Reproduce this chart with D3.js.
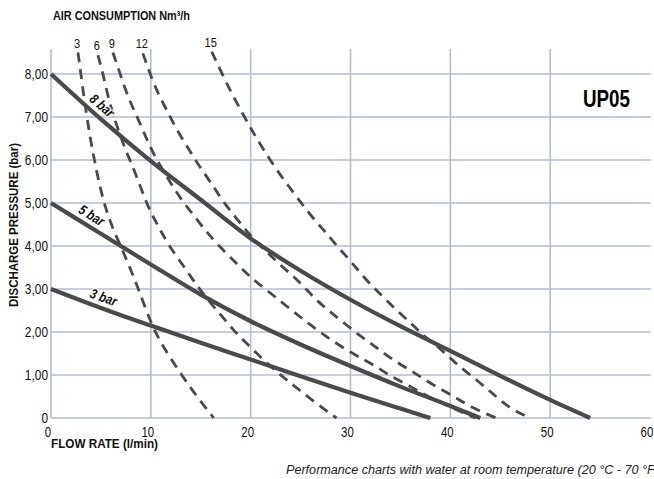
<!DOCTYPE html>
<html><head><meta charset="utf-8">
<script src="https://cdn.jsdelivr.net/npm/d3@7"></script>
<style>
body{margin:0;background:#fff;}
svg{display:block;font-family:"Liberation Sans",Arial,Helvetica,sans-serif;}
</style></head><body>
<svg id="c" width="654" height="479"></svg>
<script>
// ---------- data ----------
const xTicks = [0, 10, 20, 30, 40, 50, 60];
const xTickLabels = ["0", "10", "20", "30", "40", "50", "60"];
const yTicks = [0, 1, 2, 3, 4, 5, 6, 7, 8];
const yTickLabels = ["0", "1,00", "2,00", "3,00", "4,00", "5,00", "6,00", "7,00", "8,00"];

// discharge pressure curves (solid)
const pressureNames = ["8 bar", "5 bar", "3 bar"];
const bar8X = [0, 5, 10, 15, 20, 25, 30, 35, 40, 45, 50, 54];
const bar8Y = [8, 6.95, 5.975, 5.075, 4.175, 3.425, 2.75, 2.135, 1.56, 0.98, 0.42, 0];
const bar5X = [0, 5, 10, 15, 20, 25, 30, 35, 40, 43];
const bar5Y = [5, 4.285, 3.57, 2.87, 2.25, 1.71, 1.21, 0.73, 0.28, 0];
const bar3X = [0, 5, 10, 15, 20, 25, 30, 35, 38];
const bar3Y = [3, 2.56, 2.15, 1.75, 1.36, 0.97, 0.59, 0.22, 0];

// air consumption curves (dashed), Nm3/h
const airNames = ["3", "6", "9", "12", "15"];
const air3X = [2.7, 3.0, 3.3, 3.9, 4.4, 4.9, 5.5, 6.2, 6.9, 7.9, 8.8, 10.0, 11.2, 13.2, 14.6, 16.3];
const air3Y = [8.5, 8.0, 7.45, 6.54, 5.93, 5.38, 4.85, 4.4, 4.04, 3.5, 2.98, 2.2, 1.66, 0.96, 0.5, 0];
const air6X = [4.7, 5.2, 5.7, 6.4, 7.07, 7.9, 8.73, 9.57, 10.3, 11.0, 11.9, 13.07, 14.23, 15.5, 16.9, 18.23, 19.57, 21.5, 23.5, 24.9, 26.57, 28.6];
const air6Y = [8.44, 8.02, 7.47, 6.93, 6.47, 6.0, 5.53, 4.99, 4.65, 4.35, 3.98, 3.6, 3.21, 2.8, 2.43, 2.05, 1.74, 1.3, 0.9, 0.65, 0.34, 0];
const air9X = [6.2, 6.9, 7.7, 8.4, 9.2, 9.9, 10.9, 12.0, 13.07, 14.4, 15.57, 16.9, 18.57, 19.9, 21.57, 23.23, 24.9, 26.4, 28.07, 30.4, 32.4, 34.07, 36.07, 37.73, 40, 42.5];
const air9Y = [8.5, 8.02, 7.47, 7.12, 6.7, 6.31, 5.88, 5.46, 5.07, 4.68, 4.33, 3.98, 3.6, 3.29, 2.98, 2.67, 2.36, 2.09, 1.81, 1.47, 1.23, 0.96, 0.73, 0.5, 0.25, 0];
const air12X = [9.2, 9.9, 10.7, 11.6, 12.6, 13.8, 14.9, 16.07, 17.23, 18.73, 19.9, 21.2, 23.0, 24.9, 26.4, 27.73, 29.4, 31.07, 32.73, 34.23, 36.23, 38.23, 40.4, 42.2, 44.6];
const air12Y = [8.48, 8.02, 7.55, 7.16, 6.7, 6.25, 5.84, 5.46, 5.03, 4.6, 4.26, 3.95, 3.55, 3.17, 2.78, 2.51, 2.2, 1.89, 1.62, 1.35, 1.08, 0.77, 0.5, 0.23, 0];
const air15X = [16.1, 17.1, 18.1, 19.1, 20.1, 21.1, 22.4, 23.7, 25.1, 26.4, 27.6, 28.7, 30.1, 31.4, 32.9, 34.4, 35.9, 37.4, 39.2, 40.7, 42.9, 44.7, 46.2, 48];
const air15Y = [8.52, 8.02, 7.55, 7.12, 6.7, 6.31, 5.84, 5.42, 4.99, 4.6, 4.3, 3.98, 3.63, 3.25, 2.9, 2.55, 2.24, 1.89, 1.58, 1.23, 0.84, 0.47, 0.19, 0];

const chartTitle = "UP05";
const airTitle = "AIR CONSUMPTION Nm\u00B3/h";
const yTitle = "DISCHARGE PRESSURE (bar)";
const xTitle = "FLOW RATE (l/min)";
const caption = "Performance charts with water at room temperature (20 \u00B0C - 70 \u00B0F)";

// ---------- drawing ----------
const svg = d3.select("#c");
const x = d3.scaleLinear().domain([0, 60]).range([51, 650]);
const y = d3.scaleLinear().domain([0, 8]).range([418, 74]);
const gridTop = 8.58;
const gridColor = "#b2bed4";
const ink = "#4a4a4a";
const NARROW = 0.82;

// condensed text helper
function ctext(g, px, py, str, o = {}) {
  const t = g.append("text")
    .attr("transform", `translate(${px},${py})` + (o.rot ? ` rotate(${o.rot})` : "") + ` scale(${o.sx || NARROW},1)`)
    .attr("x", 0).attr("y", o.dy || 0)
    .attr("text-anchor", o.anchor || "start")
    .attr("font-size", o.size || 13)
    .attr("fill", o.fill || "#111")
    .text(str);
  if (o.bold) t.attr("font-weight", "bold");
  if (o.italic) t.attr("font-style", "italic");
  if (o.len) t.attr("textLength", o.len / (o.sx || NARROW)).attr("lengthAdjust", "spacingAndGlyphs");
  if (o.halo) t.attr("stroke", "#fff").attr("stroke-width", 2.5).attr("paint-order", "stroke");
  return t;
}

const zip = (xs, ys) => xs.map((v, i) => [v, ys[i]]);
const pressureSeries = [zip(bar8X, bar8Y), zip(bar5X, bar5Y), zip(bar3X, bar3Y)];
const airSeries = [zip(air3X, air3Y), zip(air6X, air6Y), zip(air9X, air9Y), zip(air12X, air12Y), zip(air15X, air15Y)];

// grid
const grid = svg.append("g");
grid.selectAll("line.h").data(yTicks).join("line")
  .attr("x1", x(0)).attr("x2", x(60) + 1)
  .attr("y1", d => y(d)).attr("y2", d => y(d))
  .attr("stroke", gridColor).attr("stroke-width", 1.6);
grid.selectAll("line.v").data(xTicks.filter(d => d < 60)).join("line")
  .attr("x1", d => x(d)).attr("x2", d => x(d))
  .attr("y1", y(0)).attr("y2", y(gridTop))
  .attr("stroke", gridColor).attr("stroke-width", 1.6);

// tick labels
const gy = svg.append("g");
yTicks.forEach((d, i) => ctext(gy, x(0) - 3, y(d) + 5, yTickLabels[i], { anchor: "end", size: 14.5 }));
const gx = svg.append("g");
xTicks.forEach((d, i) => ctext(gx, x(d) - 3, 437, xTickLabels[i], { anchor: "middle", size: 14 }));

// dashed air consumption curves
const lineBasis = d3.line().x(d => x(d[0])).y(d => y(d[1])).curve(d3.curveBasis);
svg.append("g").selectAll("path").data(airSeries).join("path")
  .attr("d", lineBasis).attr("fill", "none")
  .attr("stroke", ink).attr("stroke-width", 2.8)
  .attr("stroke-dasharray", "10,7");
const ga = svg.append("g");
airSeries.forEach((s, i) => ctext(ga, x(s[0][0]) - 1, y(s[0][1]) - 5, airNames[i], { anchor: "middle", size: 13.5 }));

// solid pressure curves
const lineMono = d3.line().x(d => x(d[0])).y(d => y(d[1])).curve(d3.curveMonotoneX);
svg.append("g").selectAll("path").data(pressureSeries).join("path")
  .attr("d", lineMono).attr("fill", "none")
  .attr("stroke", ink).attr("stroke-width", 4.2);

// pressure labels along lines
const labelAt = [4.4, 3.5, 4.9];
function interp(s, xv) {
  for (let i = 1; i < s.length; i++) {
    if (xv <= s[i][0]) {
      const t = (xv - s[i-1][0]) / (s[i][0] - s[i-1][0]);
      return s[i-1][1] + t * (s[i][1] - s[i-1][1]);
    }
  }
  return s[s.length-1][1];
}
const gl = svg.append("g");
pressureSeries.forEach((s, i) => {
  const xv = labelAt[i];
  const px = x(xv), py = y(interp(s, xv));
  const px2 = x(xv + 1), py2 = y(interp(s, xv + 1));
  const ang = Math.atan2(py2 - py, px2 - px) * 180 / Math.PI;
  ctext(gl, px, py, pressureNames[i], { rot: ang, dy: -6, anchor: "middle", size: 14, bold: true, italic: true, halo: true, sx: 0.82 });
});

// titles
ctext(svg, 53, 20, airTitle, { size: 12.5, bold: true, len: 137 });
ctext(svg, 18, 225, yTitle, { rot: -90, anchor: "middle", size: 12.5, bold: true, len: 164 });
ctext(svg, 51, 448, xTitle, { size: 12.5, bold: true, len: 107 });
ctext(svg, 583, 106.5, chartTitle, { size: 23, bold: true, len: 47, fill: "#000" });
ctext(svg, 286, 474, caption, { size: 12.5, italic: true, len: 373, fill: "#222" });
</script>
</body></html>
